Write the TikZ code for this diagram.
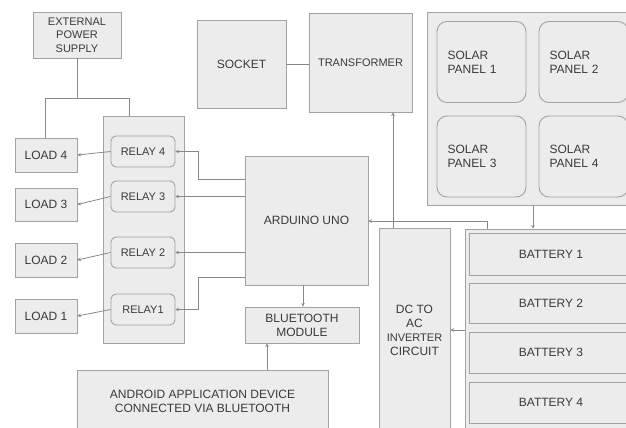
\documentclass[tikz,border=0pt]{standalone}
\usepackage{fontspec}
\setmainfont{Liberation Sans}
\usetikzlibrary{arrows.meta}
\definecolor{boxfill}{HTML}{ECECEC}
\definecolor{boxline}{HTML}{A2A2A2}
\definecolor{wire}{HTML}{888888}
\definecolor{txt}{HTML}{3A3A3A}
\tikzset{
  blk/.style={draw=boxline, fill=boxfill, line width=0.9pt, inner sep=1pt, align=center, text=txt, font=\fontsize{12}{14}\selectfont},
  grp/.style={draw=boxline, fill=boxfill, line width=0.9pt, inner sep=0pt},
  rnd/.style={blk, rounded corners=5pt},
  panel/.style={blk, rounded corners=10pt, align=left, text width=68pt, inner xsep=10.5pt, minimum height=81pt},
  small/.style={font=\fontsize{11}{13.5}\selectfont},
  wr/.style={draw=wire, line width=0.8pt},
  ar/.style={wr, -{Stealth[length=3.5pt,width=3.5pt]}}
}
\begin{document}
\begin{tikzpicture}[x=1pt,y=-1pt]
\useasboundingbox (0,0) rectangle (626,428);
\clip (0,0) rectangle (626,428);
\fill[white] (0,0) rectangle (626,428);

% groups
\node[grp, minimum width=81pt, minimum height=227pt] (rg) at (143.5,229.5) {};
\node[grp, minimum width=213pt, minimum height=193pt] (sg) at (533.5,108.5) {};
\node[grp, minimum width=175pt, minimum height=211pt] (bg) at (552.5,334.5) {};

% top row
\node[blk, small, minimum width=88pt, minimum height=46pt] (eps) at (77,35) {EXTERNAL\\POWER\\SUPPLY};
\node[blk, minimum width=89pt, minimum height=88pt] (sock) at (241.5,64) {SOCKET};
\node[blk, small, minimum width=103pt, minimum height=99pt] (tr) at (360.5,62.5) {TRANSFORMER};

% solar panels
\node[panel] (sp1) at (481.5,62) {SOLAR\\PANEL 1};
\node[panel] (sp2) at (583.5,62) {SOLAR\\PANEL 2};
\node[panel] (sp3) at (481.5,156.5) {SOLAR\\PANEL 3};
\node[panel] (sp4) at (583.5,156.5) {SOLAR\\PANEL 4};

% relays
\node[rnd, small, minimum width=64pt, minimum height=31pt] (r4) at (143,151.5) {RELAY 4};
\node[rnd, small, minimum width=64pt, minimum height=31pt] (r3) at (143,196.5) {RELAY 3};
\node[rnd, small, minimum width=64pt, minimum height=31pt] (r2) at (143,252.5) {RELAY 2};
\node[rnd, small, minimum width=64pt, minimum height=31pt] (r1) at (143,309.5) {RELAY1};

% loads
\node[blk, minimum width=62pt, minimum height=34pt] (l4) at (46,155) {LOAD 4};
\node[blk, minimum width=62pt, minimum height=33pt] (l3) at (46,204.5) {LOAD 3};
\node[blk, minimum width=62pt, minimum height=34pt] (l2) at (46,260) {LOAD 2};
\node[blk, minimum width=62pt, minimum height=34pt] (l1) at (46,316) {LOAD 1};

% arduino, bluetooth, android
\node[blk, minimum width=123pt, minimum height=129pt] (ard) at (306.5,220.5) {ARDUINO UNO};
\node[blk, minimum width=114pt, minimum height=36pt] (bt) at (302,325) {BLUETOOTH\\MODULE};
\node[blk, minimum width=251pt, minimum height=62pt] (and) at (202.5,401) {ANDROID APPLICATION DEVICE\\CONNECTED VIA BLUETOOTH};

% inverter
\node[blk, minimum width=71pt, minimum height=204pt] (inv) at (414.5,330) {DC TO\\AC\\{\fontsize{11}{13}\selectfont INVERTER}\\CIRCUIT};

% batteries
\node[blk, minimum width=164pt, minimum height=42pt] (b1) at (551,254) {BATTERY 1};
\node[blk, minimum width=164pt, minimum height=40pt] (b2) at (551,303) {BATTERY 2};
\node[blk, minimum width=164pt, minimum height=41pt] (b3) at (551,352.5) {BATTERY 3};
\node[blk, minimum width=164pt, minimum height=41pt] (b4) at (551,402.5) {BATTERY 4};

% external power supply distribution
\coordinate (ej) at (77,98);
\coordinate (el) at (45,98);
\coordinate (er) at (129,98);
\draw[wr] (eps.south) -- (ej);
\draw[wr] (el) -- (er);
\draw[wr] (el) -- (el |- l4.north);
\draw[wr] (er) -- (er |- rg.north);

% relays to loads
\draw[ar] (r4.west) -- (l4.east);
\draw[ar] (r3.west) -- (l3.east);
\draw[ar] (r2.west) -- (l2.east);
\draw[ar] (r1.west) -- (l1.east);

% arduino to relays
\coordinate (a4) at (245,179);
\coordinate (a1) at (245,277);
\draw[ar] (a4) -- (198,179) -- (198,151.5) -- (r4.east);
\draw[ar] (ard.west |- r3.east) -- (r3.east);
\draw[ar] (ard.west |- r2.east) -- (r2.east);
\draw[ar] (a1) -- (198,277) -- (198,309.5) -- (r1.east);

% arduino - bluetooth - android
\draw[ar] (ard.south -| 303,0) -- (bt.north -| 303,0);
\draw[ar] (and.north -| 267,0) -- (bt.south -| 267,0);

% socket - transformer
\draw[wr] (sock.east) -- (tr.west |- sock.east);

% inverter to transformer
\draw[ar] (inv.north -| 393,0) -- (tr.south -| 393,0);

% solar to battery
\draw[ar] (sg.south -| 533,0) -- (bg.north -| 533,0);

% battery to arduino
\coordinate (bk) at (487,221);
\draw[ar] (bg.north -| 487,0) -- (bk) -- (ard.east |- bk);

% battery to inverter
\draw[ar] (bg.west |- 0,330) -- (inv.east |- 0,330);
\end{tikzpicture}
\end{document}
